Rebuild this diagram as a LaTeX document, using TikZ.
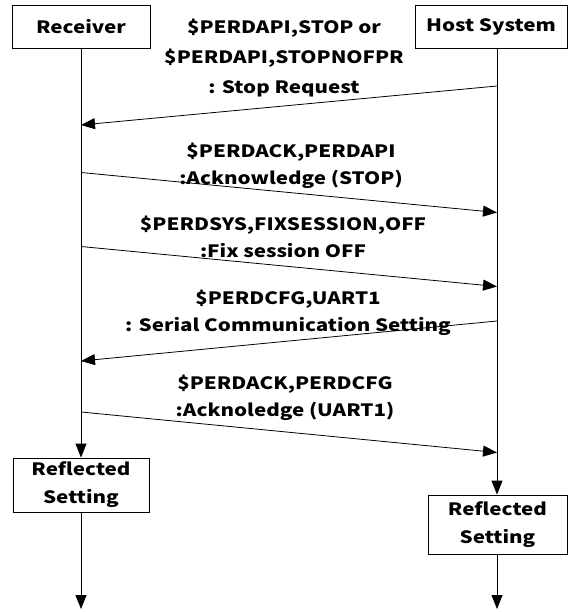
\documentclass[tikz,border=0pt]{standalone}
\usepackage{fontspec}
\setmainfont{Noto Sans CJK JP}[FakeStretch=1.21]
\usetikzlibrary{arrows.meta}
\tikzset{
  x=1pt, y=-1pt,
  party/.style={draw, line width=0.8pt, inner sep=0pt, font=\fontsize{17}{28}\selectfont\bfseries},
  lifeline/.style={line width=0.8pt, -{Triangle[length=14pt,width=11pt]}},
  msg/.style={line width=0.8pt, -{Triangle[length=14pt,width=11pt]}},
  lbl/.style={align=center, inner sep=0pt, font=\fontsize{17}{27.5}\selectfont\bfseries},
}
\begin{document}
\begin{tikzpicture}
\useasboundingbox (0,0) rectangle (570,612);

% participants
\node[party, minimum width=138pt, minimum height=43pt] (rec) at (81,26.5) {Receiver};
\node[party, minimum width=152pt, minimum height=43pt] (host) at (491,26.5) {Host System};

% result boxes
\node[party, minimum width=136pt, minimum height=54pt, align=center] (recset) at (81,485) {Reflected\\Setting};
\node[party, minimum width=139pt, minimum height=59pt, align=center] (hostset) at (497.5,524.5) {Reflected\\Setting};

% lifeline anchors
\coordinate (rtop) at (81,48);
\coordinate (htop) at (497,48);
\coordinate (rend) at (81,609);
\coordinate (hend) at (497,609);

% message end points on the lifelines
\coordinate (m1a) at (497,86);  \coordinate (m1b) at (81,125);
\coordinate (m2a) at (81,172.5); \coordinate (m2b) at (497,212.5);
\coordinate (m3a) at (81,246.5); \coordinate (m3b) at (497,286.5);
\coordinate (m4a) at (497,321);  \coordinate (m4b) at (81,361);
\coordinate (m5a) at (81,412);   \coordinate (m5b) at (497,452.5);

% lifelines
\draw[lifeline] (rtop) -- (recset.north);
\draw[lifeline] (htop) -- (hostset.north -| htop);
\draw[lifeline] (recset.south) -- (rend);
\draw[lifeline] (hostset.south -| hend) -- (hend);

% messages
\draw[msg] (m1a) -- (m1b);
\draw[msg] (m2a) -- (m2b);
\draw[msg] (m3a) -- (m3b);
\draw[msg] (m4a) -- (m4b);
\draw[msg] (m5a) -- (m5b);

% message labels
\node[lbl, font=\fontsize{17}{30}\selectfont\bfseries] (l1) at (284,58) {\$PERDAPI,STOP or\\\$PERDAPI,STOPNOFPR\\: Stop Request};
\node[lbl] (l2) at (291,166) {\$PERDACK,PERDAPI\\:Acknowledge (STOP)};
\node[lbl] (l3) at (283,237) {\$PERDSYS,FIXSESSION,OFF\\:Fix session OFF};
\node[lbl] (l4) at (288,313) {\$PERDCFG,UART1\\: Serial Communication Setting};
\node[lbl] (l5) at (285,398) {\$PERDACK,PERDCFG\\:Acknoledge (UART1)};
\end{tikzpicture}
\end{document}
